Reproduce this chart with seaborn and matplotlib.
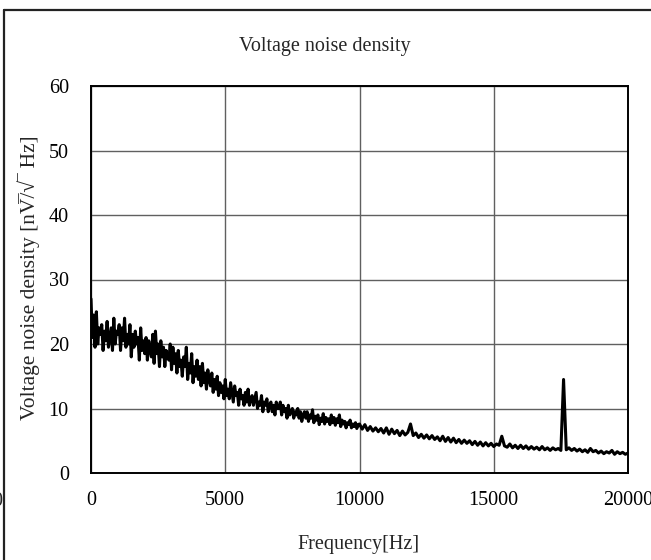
import numpy as np
import pandas as pd
import matplotlib
matplotlib.use("Agg")
import matplotlib.pyplot as plt
import seaborn as sns
from matplotlib.lines import Line2D

# ---- data ----
# 0 - 9950 Hz, 50 Hz steps
low_start, low_step = 0, 50
noise_low = [
    27.0, 21.0, 24.5, 19.5, 25.0, 20.0, 22.5, 21.5, 23.0, 19.0, 22.0, 20.5, 23.5, 19.5, 21.0, 22.5, 19.0, 24.0, 20.0, 22.0,
    21.5, 23.0, 19.0, 22.5, 20.5, 24.0, 19.5, 21.5, 20.0, 23.0, 18.0, 21.5, 19.5, 22.0, 20.0, 21.0, 17.5, 22.5, 19.0, 20.5,
    18.5, 21.0, 17.5, 20.5, 19.0, 18.0, 21.5, 17.0, 22.0, 18.5, 20.0, 16.5, 20.5, 18.0, 19.5, 16.5, 19.0, 18.0, 17.5, 20.0,
    16.0, 19.5, 17.0, 18.5, 15.5, 19.0, 16.5, 17.5, 15.0, 18.0, 16.5, 19.5, 14.5, 17.0, 15.5, 18.5, 14.0, 16.5, 15.0, 17.5,
    14.5, 16.5, 13.5, 17.0, 14.0, 15.5, 13.0, 16.0, 14.5, 13.5, 15.5, 12.5, 14.5, 13.0, 15.0, 12.0, 14.0, 12.5, 13.5, 11.5,
    14.5, 12.0, 13.0, 11.5, 14.0, 12.5, 11.0, 13.5, 12.0, 12.5, 10.5, 13.0, 11.5, 12.0, 10.5, 12.5, 11.0, 13.0, 10.5, 11.5,
    12.0, 10.5, 11.5, 12.5, 10.0, 11.0, 10.5, 12.0, 9.5, 11.0, 10.5, 11.5, 9.5, 10.5, 11.0, 9.5, 10.5, 9.0, 11.0, 10.0,
    10.0, 11.0, 9.0, 10.5, 9.5, 10.0, 8.5, 10.5, 9.0, 9.5, 10.0, 8.5, 9.5, 9.0, 10.0, 8.5, 9.5, 8.0, 9.0, 9.5,
    8.5, 9.5, 8.0, 9.0, 8.5, 9.8, 7.8, 8.8, 8.2, 9.0, 7.5, 8.5, 8.0, 9.2, 7.6, 8.6, 8.0, 8.4, 7.5, 9.0,
    7.8, 8.6, 7.4, 8.4, 7.8, 9.0, 7.2, 8.2, 7.6, 8.0, 7.0, 7.8, 7.5, 8.2, 7.0, 7.6, 7.2, 7.8, 6.9, 7.5,
]
# 10000 - 20000 Hz, 100 Hz steps
high_start, high_step = 10000, 100
noise_high = [
    7.6, 6.8, 7.5, 6.6, 7.2, 6.5, 7.0, 6.4, 6.9, 6.2,
    7.0, 6.0, 6.8, 6.1, 6.6, 5.8, 6.5, 5.9, 6.3, 7.6,
    5.8, 6.2, 5.5, 6.0, 5.4, 5.9, 5.3, 5.8, 5.2, 5.6,
    5.0, 5.7, 4.9, 5.5, 4.8, 5.4, 4.7, 5.2, 4.6, 5.1,
    4.6, 5.0, 4.4, 4.9, 4.3, 4.8, 4.2, 4.7, 4.2, 4.6,
    4.1, 4.5, 4.3, 5.7, 4.2, 4.0, 4.5, 3.9, 4.3, 3.8,
    4.3, 3.8, 4.2, 3.7, 4.1, 3.7, 4.0, 3.6, 4.1, 3.6,
    3.9, 3.5, 3.9, 3.6, 3.8, 3.5, 14.5, 3.6, 3.9, 3.5,
    3.8, 3.4, 3.7, 3.3, 3.6, 3.2, 3.8, 3.3, 3.5, 3.1,
    3.4, 3.0, 3.3, 3.1, 3.5, 2.9, 3.3, 3.0, 3.2, 2.9,
    3.1,
]
x_ticks = [0, 5000, 10000, 15000, 20000]
x_tick_labels = ["0", "5000", "10000", "15000", "20000"]
y_ticks = [0, 10, 20, 30, 40, 50, 60]
y_tick_labels = ["0", "10", "20", "30", "40", "50", "60"]
title_text = "Voltage noise density"
xlabel_text = "Frequency[Hz]"
ylabel_text = "Voltage noise density [nV\u0305/\u221a\u203e Hz]"

freq = np.concatenate([low_start + low_step * np.arange(len(noise_low)),
                       high_start + high_step * np.arange(len(noise_high))])
df = pd.DataFrame({"freq": freq, "noise": noise_low + noise_high})

sns.set_style("white")
plt.rcParams["font.family"] = ["Liberation Serif", "DejaVu Serif"]
plt.rcParams["font.size"] = 14

W, H = 651, 560
fig = plt.figure(figsize=(W / 100, H / 100), dpi=100)
fig.patch.set_facecolor("white")

left, right, top, bottom = 91, 628, 86, 473
ax = fig.add_axes([left / W, 1 - bottom / H, (right - left) / W, (bottom - top) / H])

sns.lineplot(data=df, x="freq", y="noise", ax=ax, color="black", linewidth=2.2,
             estimator=None, sort=False)

ax.set_xlim(0, 20000)
ax.set_ylim(0, 60)
ax.set_xticks(x_ticks)
ax.set_xticklabels(x_tick_labels)
ax.set_yticks(y_ticks)
ax.set_yticklabels(y_tick_labels)
ax.tick_params(axis="both", length=0, labelsize=14.5, colors="black")
ax.tick_params(axis="x", pad=13)
ax.tick_params(axis="y", pad=16)
ax.grid(True, color="#606060", linewidth=1.0)
ax.set_axisbelow(True)
for s in ax.spines.values():
    s.set_visible(True)
    s.set_color("black")
    s.set_linewidth(1.4)
ax.set_xlabel("")
ax.set_ylabel("")

fig.text(325 / W, 1 - 47 / H, title_text, ha="center", va="center", fontsize=14.5)
fig.text(358 / W, 1 - 545 / H, xlabel_text, ha="center", va="center", fontsize=14.5)
fig.text(29 / W, 1 - 278 / H, ylabel_text, ha="center", va="center",
         rotation=90, fontsize=15.5)

# fragment of a neighbouring chart's label at the left edge
fig.text(-2.5 / W, 1 - 502 / H, "0", ha="center", va="center", fontsize=14.5)

# chart frame (top and left edges visible)
fig.add_artist(Line2D([3.5 / W, 1.0], [1 - 9.5 / H, 1 - 9.5 / H],
                      transform=fig.transFigure, color="#222222", linewidth=1.6))
fig.add_artist(Line2D([3.5 / W, 3.5 / W], [1 - 9.5 / H, 0.0],
                      transform=fig.transFigure, color="#222222", linewidth=1.6))

fig.savefig("out.png", dpi=100)
